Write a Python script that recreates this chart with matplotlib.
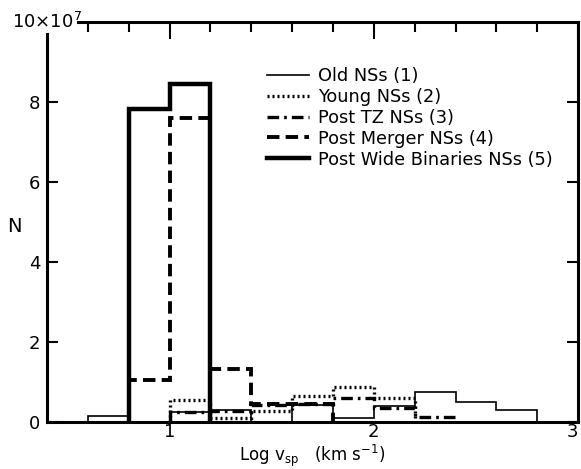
import numpy as np
import matplotlib
matplotlib.use("Agg")
import matplotlib.pyplot as plt

plt.rcParams['font.family'] = ['DejaVu Sans']

# bin edges in log v_sp, and counts in units of 1e7 per bin
edges = [0.6, 0.8, 1.0, 1.2, 1.4, 1.6, 1.8, 2.0, 2.2, 2.4, 2.6, 2.8]
old_ns = [0.15, 0.0, 0.25, 0.3, 0.0, 0.43, 0.1, 0.4, 0.75, 0.5, 0.3]
young_ns = [0.0, 0.0, 0.55, 0.1, 0.27, 0.66, 0.87, 0.6, 0.0, 0.0, 0.0]
post_tz = [0.0, 0.0, 0.25, 0.27, 0.43, 0.44, 0.6, 0.35, 0.13, 0.0, 0.0]
post_merger = [0.0, 1.05, 7.6, 1.32, 0.45, 0.45, 0.0, 0.0, 0.0, 0.0, 0.0]
post_wide = [0.0, 7.83, 8.45, 0.0, 0.0, 0.0, 0.0, 0.0, 0.0, 0.0, 0.0]

labels = ["Old NSs (1)", "Young NSs (2)", "Post TZ NSs (3)",
          "Post Merger NSs (4)", "Post Wide Binaries NSs (5)"]
styles = [
    dict(lw=1.2, linestyle='-'),
    dict(lw=2.4, linestyle=(0, (0.6, 0.9))),
    dict(lw=2.4, linestyle=(0, (3.5, 1.5, 0.8, 1.5))),
    dict(lw=2.8, linestyle=(0, (3.2, 1.6))),
    dict(lw=3.2, linestyle='-'),
]

fig = plt.figure(figsize=(5.81, 4.69), dpi=100)
ax = fig.add_axes([0.081, 0.1, 0.914, 0.853])


def draw_hist(ax, counts, label, style):
    # only outline the span of bins that hold something
    counts = np.asarray(counts)
    nz = np.nonzero(counts)[0]
    lo, hi = nz[0], nz[-1] + 1
    ax.stairs(counts[lo:hi], edges[lo:hi + 1], color='black',
              label=label, **style)


for counts, label, style in zip([old_ns, young_ns, post_tz, post_merger,
                                 post_wide], labels, styles):
    draw_hist(ax, counts, label, style)

ax.set_xlim(0.4, 3.0)
ax.set_ylim(0, 10)

ax.set_yticks([0, 2, 4, 6, 8])
ax.set_xticks([1, 2, 3])
ax.set_xticks(np.arange(0.6, 2.9, 0.2), minor=True)

ax.tick_params(axis='x', which='both', bottom=False, top=True,
               direction='in', width=1.5, labelsize=13, pad=1)
ax.tick_params(axis='x', which='major', length=12)
ax.tick_params(axis='x', which='minor', length=7)
ax.tick_params(axis='y', which='major', direction='in', length=8, width=1.5,
               left=True, right=True, labelsize=13, pad=5)
# last label sits on the right edge; keep it inside the figure
ax.get_xticklabels()[-1].set_horizontalalignment('right')

for side in ['left', 'bottom', 'right', 'top']:
    ax.spines[side].set_linewidth(2.2)
# open top-left corner where the scale factor sits
ax.spines['left'].set_bounds(0, 9.7)
ax.spines['top'].set_bounds(0.55, 3.0)

ax.text(0.0, 1.0, r'10×10$^{\mathsf{7}}$', transform=ax.transAxes,
        ha='center', va='center', fontsize=13)

ax.set_xlabel(r'Log v$_{\mathrm{sp}}$   (km s$^{-1}$)', fontsize=12,
              labelpad=1)
ax.text(-0.062, 0.49, 'N', transform=ax.transAxes, ha='center',
        va='center', fontsize=14)

ax.legend(loc='upper left', bbox_to_anchor=(0.4, 0.905), frameon=False,
          fontsize=12.8, handlelength=2.4, handletextpad=0.5,
          labelspacing=0.16, borderaxespad=0)

fig.savefig('out.png', dpi=100)
